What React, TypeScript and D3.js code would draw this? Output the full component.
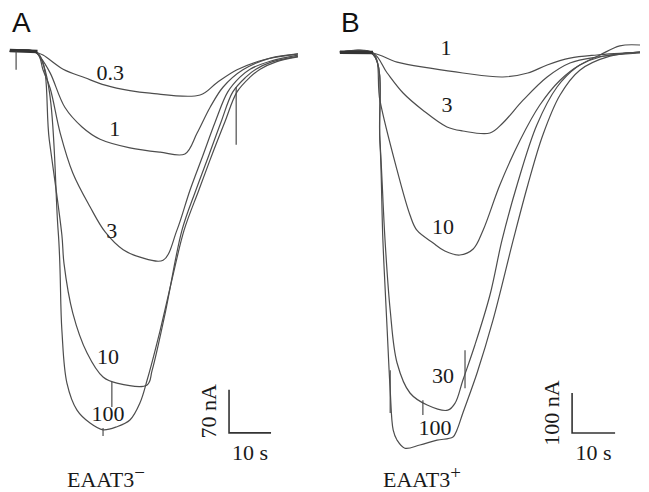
import * as d3 from 'd3';
import { useEffect, useRef } from 'react';

type Pt = [number, number];

// time in s, current in nA (inward current is negative)

// Panel A, EAAT3-
const concA = ['0.3', '1', '3', '10', '100'];
const a03: Pt[] = [[-6, 1], [0, 0], [1.9, -5], [6.7, -28], [11.9, -42], [16.7, -54], [22.6, -63], [27.4, -67], [39.3, -70], [43.3, -50], [48.1, -29], [54.3, -13], [60.7, -5], [62.6, -3]];
const a1: Pt[] = [[-6, 1], [0, 0], [1.2, -8], [3.6, -34], [7.1, -90], [11.2, -122], [15.5, -142], [22.6, -156], [29.8, -163], [35.7, -166], [38.6, -132], [41.7, -90], [44.8, -57], [49.5, -29], [56, -10], [62.6, -3]];
const a3: Pt[] = [[-6, 1], [0.5, -2], [1.9, -29], [3.6, -59], [6, -132], [9, -197], [13.1, -252], [16.7, -293], [21, -322], [25, -334], [30.5, -339], [33.8, -290], [36.9, -225], [40, -168], [42.9, -114], [45.9, -65], [48.8, -41], [51.2, -28], [56, -15], [62.6, -5]];
const a10: Pt[] = [[-6, 1], [0.7, -2], [3.4, -143], [6.4, -298], [6.9, -344], [9, -425], [12.4, -490], [16.2, -529], [19.5, -539], [26.7, -542], [27.9, -518], [31, -425], [35, -290], [38.3, -225], [41.4, -168], [44.3, -114], [47.1, -65], [50.2, -41], [52.6, -28], [56.4, -16], [62.6, -7]];
const a100: Pt[] = [[-6, 1], [0.5, -2], [5.5, -290], [6.4, -453], [7.6, -539], [10, -583], [13.1, -604], [16.2, -615], [19.5, -610], [22.6, -599], [25, -571], [26.7, -534], [29.8, -453], [32.6, -371], [35.5, -290], [39, -225], [42.1, -168], [45.2, -114], [48.1, -65], [51.2, -41], [53.6, -28], [57.4, -16], [62.6, -8]];
const labelPosA: Pt[] = [[17.9, -33], [19, -124], [18.3, -290], [17.4, -495], [17.4, -588]];
// [time, from, to] vertical artefacts
const spikesA: [number, number, number][] = [[-4.5, 1, -29], [47.9, -57, -151], [18.3, -537, -578], [16.2, -612, -625]];
const holdA: Pt[] = [[-6, 2.4], [0.6, 1]];

// Panel B, EAAT3+
const concB = ['1', '3', '10', '30', '100'];
const b1: Pt[] = [[-7.7, 2], [0, 0], [5.6, -23], [13.3, -38], [20.9, -50], [30.2, -60], [36, -50], [40.5, -30], [45.8, -13], [52.1, -5], [62.1, 2]];
const b3: Pt[] = [[-7.7, 2], [0, 0], [3.3, -50], [7, -100], [11.6, -143], [17.2, -185], [20.9, -195], [27.2, -200], [30.2, -175], [34.9, -118], [40.5, -60], [45.8, -25], [52.1, -10], [62.1, 0]];
const b10: Pt[] = [[-7.7, 2], [0, 0], [1.6, -118], [5.6, -293], [8.6, -405], [10.2, -443], [14, -475], [16.7, -495], [20.2, -505], [23.3, -490], [25.6, -443], [29.5, -330], [34.2, -218], [38.8, -130], [43.5, -68], [48.1, -30], [52.8, -10], [62.1, 2]];
const b30: Pt[] = [[-7.7, 2], [0, -3], [1.6, -218], [2.8, -468], [4, -643], [5.6, -775], [8.6, -850], [12.6, -880], [17.4, -893], [19.1, -875], [20.9, -818], [23.7, -730], [27.2, -605], [30, -468], [33.5, -330], [38.1, -180], [42.8, -85], [47.4, -35], [52.8, -5], [57.4, 18], [62.1, 20]];
const b100: Pt[] = [[-7.7, 2], [0, -3], [1.6, -218], [2.3, -468], [3.3, -693], [4, -843], [4.7, -943], [5.6, -968], [7.4, -988], [10.9, -980], [14.9, -968], [18.6, -960], [19.5, -943], [20.9, -900], [24.2, -800], [27.9, -668], [32.6, -468], [36, -330], [39.5, -205], [43.5, -105], [48.1, -43], [55.1, -8], [62.1, 2]];
const labelPosB: Pt[] = [[17, 15], [17.2, -128], [16.3, -433], [16.3, -805], [14.4, -935]];
const spikesB: [number, number, number][] = [[4, -793, -900], [11.6, -868, -905], [21.4, -743, -838]];
const holdB: Pt[] = [[-7.7, 2], [0, 1]];

const App = () => {
  const ref = useRef<SVGSVGElement>(null);

  useEffect(() => {
    const svg = d3.select(ref.current);
    svg.selectAll('*').remove();

    const serif = "'Liberation Serif', 'Times New Roman', Times, serif";
    const ink = '#4d4d4d';

    const drawPanel = (
      letter: string, letterX: number,
      traces: Pt[][], conc: string[], labelPos: Pt[],
      spikes: [number, number, number][], hold: Pt[],
      x: d3.ScaleLinear<number, number>, y: d3.ScaleLinear<number, number>,
      bar: { t: number; i: number; dt: number; di: number; tLabel: string; iLabel: string },
      name: string, sup: string, nameX: number
    ) => {
      const g = svg.append('g');
      const line = d3.line<Pt>()
        .x(d => x(d[0]))
        .y(d => y(d[1]))
        .curve(d3.curveCatmullRom.alpha(0.5));

      traces.forEach(tr => {
        g.append('path')
          .attr('d', line(tr))
          .attr('fill', 'none')
          .attr('stroke', ink)
          .attr('stroke-width', 1.2);
      });

      g.append('path')
        .attr('d', d3.line<Pt>().x(d => x(d[0])).y(d => y(d[1]))(hold))
        .attr('stroke', '#333')
        .attr('stroke-width', 3.5);

      spikes.forEach(s => {
        g.append('line')
          .attr('x1', x(s[0])).attr('x2', x(s[0]))
          .attr('y1', y(s[1])).attr('y2', y(s[2]))
          .attr('stroke', ink)
          .attr('stroke-width', 1.2);
      });

      conc.forEach((c, k) => {
        g.append('text')
          .attr('x', x(labelPos[k][0]))
          .attr('y', y(labelPos[k][1]))
          .attr('dy', '0.35em')
          .attr('text-anchor', 'middle')
          .style('font-family', serif)
          .attr('font-size', 22)
          .attr('fill', '#1a1a1a')
          .text(c);
      });

      // scale bar
      const x0 = x(bar.t), y0 = y(bar.i);
      g.append('path')
        .attr('d', `M${x0},${y(bar.i + bar.di)}V${y0}H${x(bar.t + bar.dt)}`)
        .attr('fill', 'none')
        .attr('stroke', '#333')
        .attr('stroke-width', 1.6);
      g.append('text')
        .attr('transform', `translate(${x0 - 13},${(y0 + y(bar.i + bar.di)) / 2}) rotate(-90)`)
        .attr('text-anchor', 'middle')
        .style('font-family', serif)
        .attr('font-size', 22)
        .attr('fill', '#1a1a1a')
        .text(bar.iLabel);
      g.append('text')
        .attr('x', (x0 + x(bar.t + bar.dt)) / 2)
        .attr('y', y0 + 27)
        .attr('text-anchor', 'middle')
        .style('font-family', serif)
        .attr('font-size', 22)
        .attr('fill', '#1a1a1a')
        .text(bar.tLabel);

      const nm = g.append('text')
        .attr('x', nameX)
        .attr('y', 487)
        .style('font-family', serif)
        .attr('font-size', 22)
        .attr('fill', '#1a1a1a')
        .text(name);
      nm.append('tspan')
        .attr('dy', -8)
        .attr('font-size', 19)
        .text(sup);

      g.append('text')
        .attr('x', letterX)
        .attr('y', 32)
        .style('font-family', "'Liberation Sans', Arial, sans-serif")
        .attr('font-size', 28)
        .attr('fill', '#111')
        .text(letter);
    };

    const xA = d3.scaleLinear().domain([0, 10]).range([35, 77]);
    const yA = d3.scaleLinear().domain([0, -70]).range([52, 95]);
    drawPanel('A', 12, [a03, a1, a3, a10, a100], concA, labelPosA, spikesA, holdA, xA, yA,
      { t: 46.2, i: -620, dt: 10, di: 70, tLabel: '10 s', iLabel: '70 nA' }, 'EAAT3', '\u2212', 67);

    const xB = d3.scaleLinear().domain([0, 10]).range([373, 416]);
    const yB = d3.scaleLinear().domain([0, -100]).range([53, 93]);
    drawPanel('B', 341, [b1, b3, b10, b30, b100], concB, labelPosB, spikesB, holdB, xB, yB,
      { t: 46.3, i: -950, dt: 10, di: 100, tLabel: '10 s', iLabel: '100 nA' }, 'EAAT3', '+', 383);
  }, []);

  return (
    <svg ref={ref} width="649" height="492"
      style={{ position: 'absolute', left: 0, top: 0, background: '#fff' }} />
  );
};

export default App;
